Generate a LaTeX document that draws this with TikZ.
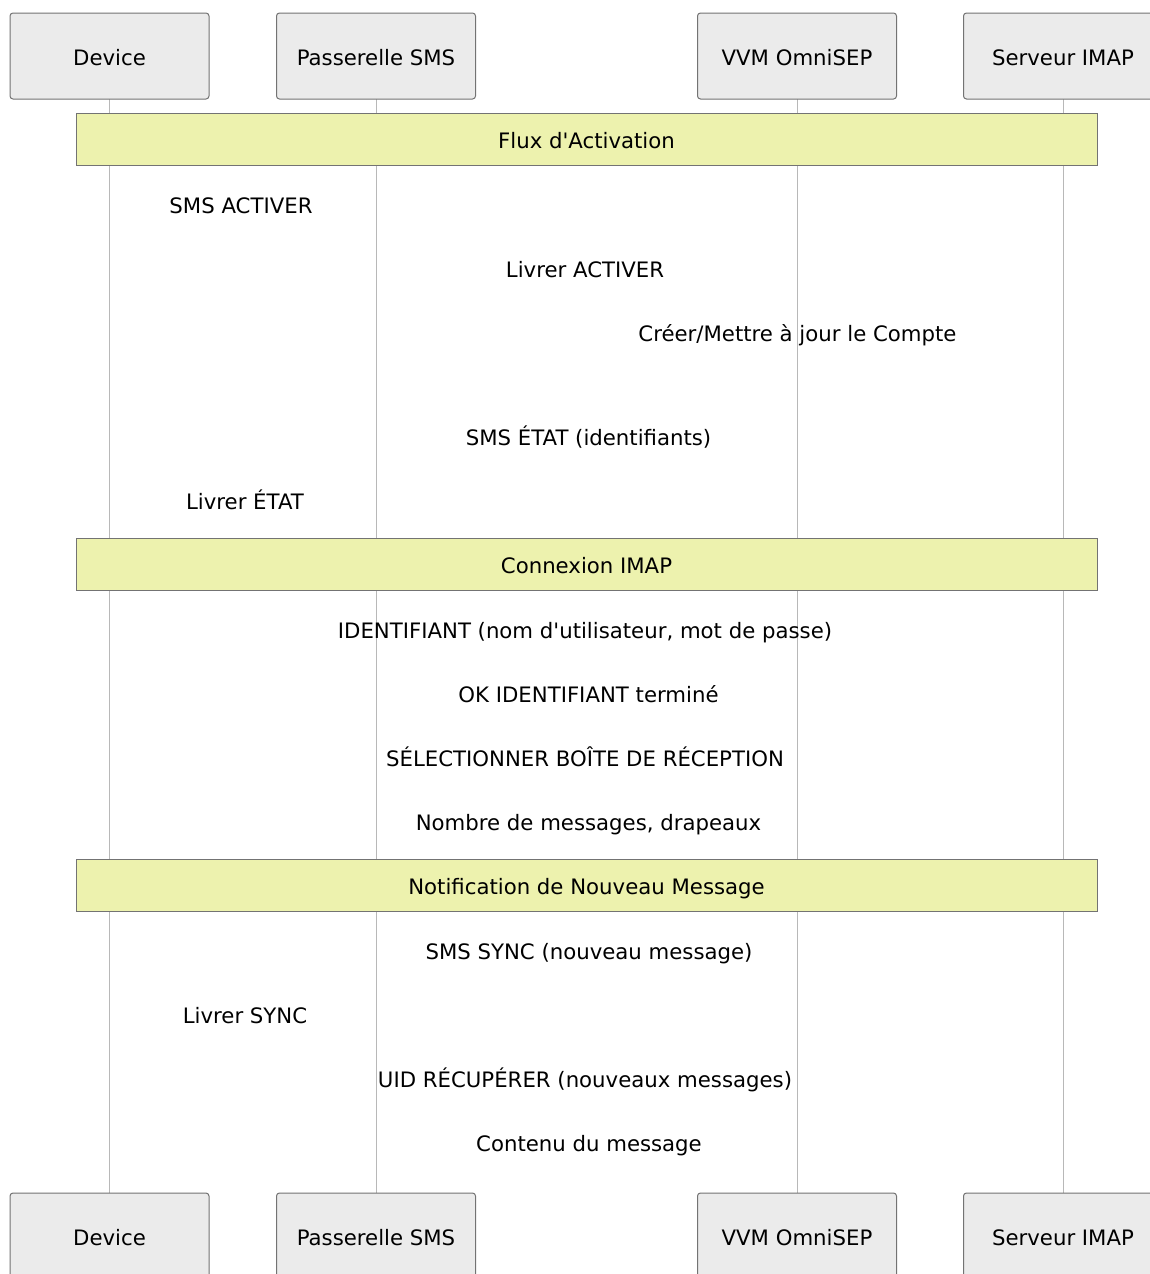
\documentclass[tikz,border=0pt]{standalone}
\usepackage{fontspec}
\setmainfont{DejaVu Sans}
\begin{document}
\begin{tikzpicture}[x=1pt,y=-1pt,
  actor/.style={draw=black!55,fill=black!8,rounded corners=3pt,line width=1pt,minimum width=199pt,minimum height=86pt,inner sep=0pt,text height=18pt,text depth=0pt,font=\fontsize{21.25}{25}\selectfont},
  life/.style={draw=black!28,line width=1pt},
  notebox/.style={draw=black!55,fill={rgb,255:red,237;green,242;blue,174},line width=1pt,minimum width=1021pt,minimum height=52pt,inner sep=0pt,text height=18pt,text depth=0pt,font=\fontsize{21.25}{25}\selectfont},
  msg/.style={font=\fontsize{21.25}{25}\selectfont,inner sep=0pt,text height=18pt,text depth=0pt,anchor=center}]
\useasboundingbox (0,0) rectangle (1150,1274);
\fill[white] (0,0) rectangle (1150,1274);
% lifelines
\coordinate (dT) at (109.5,99); \coordinate (dB) at (109.5,1193);
\coordinate (pT) at (376,99); \coordinate (pB) at (376,1193);
\coordinate (vT) at (797,99); \coordinate (vB) at (797,1193);
\coordinate (sT) at (1063,99); \coordinate (sB) at (1063,1193);
\draw[life] (dT) -- (dB);
\draw[life] (pT) -- (pB);
\draw[life] (vT) -- (vB);
\draw[life] (sT) -- (sB);
% actors
\node[actor] (d1) at (109.5,56) {Device};
\node[actor] (p1) at (376,56) {Passerelle SMS};
\node[actor] (v1) at (797,56) {VVM OmniSEP};
\node[actor] (s1) at (1063,56) {Serveur IMAP};
\node[actor] (d2) at (109.5,1236) {Device};
\node[actor] (p2) at (376,1236) {Passerelle SMS};
\node[actor] (v2) at (797,1236) {VVM OmniSEP};
\node[actor] (s2) at (1063,1236) {Serveur IMAP};
% notes
\node[notebox] (n1) at (586.5,139) {Flux d\textquotesingle Activation};
\node[notebox] (n2) at (586.5,564) {Connexion IMAP};
\node[notebox] (n3) at (586.5,885) {Notification de Nouveau Message};
% messages
\node[msg] (m1) at (241,204) {SMS ACTIVER};
\node[msg] (m2) at (585,268) {Livrer ACTIVER};
\node[msg] (m3) at (797.5,332) {Créer/Mettre à jour le Compte};
\node[msg] (m4) at (588.5,436) {SMS ÉTAT (identifiants)};
\node[msg] (m5) at (245,500) {Livrer ÉTAT};
\node[msg] (m6) at (585,629) {IDENTIFIANT (nom d\textquotesingle utilisateur, mot de passe)};
\node[msg] (m7) at (588.5,693) {OK IDENTIFIANT terminé};
\node[msg] (m8) at (585,757) {SÉLECTIONNER BOÎTE DE RÉCEPTION};
\node[msg] (m9) at (588.5,821) {Nombre de messages, drapeaux};
\node[msg] (m10) at (589,950) {SMS SYNC (nouveau message)};
\node[msg] (m11) at (245,1014) {Livrer SYNC};
\node[msg] (m12) at (585,1078) {UID RÉCUPÉRER (nouveaux messages)};
\node[msg] (m13) at (589,1142) {Contenu du message};
\end{tikzpicture}
\end{document}
